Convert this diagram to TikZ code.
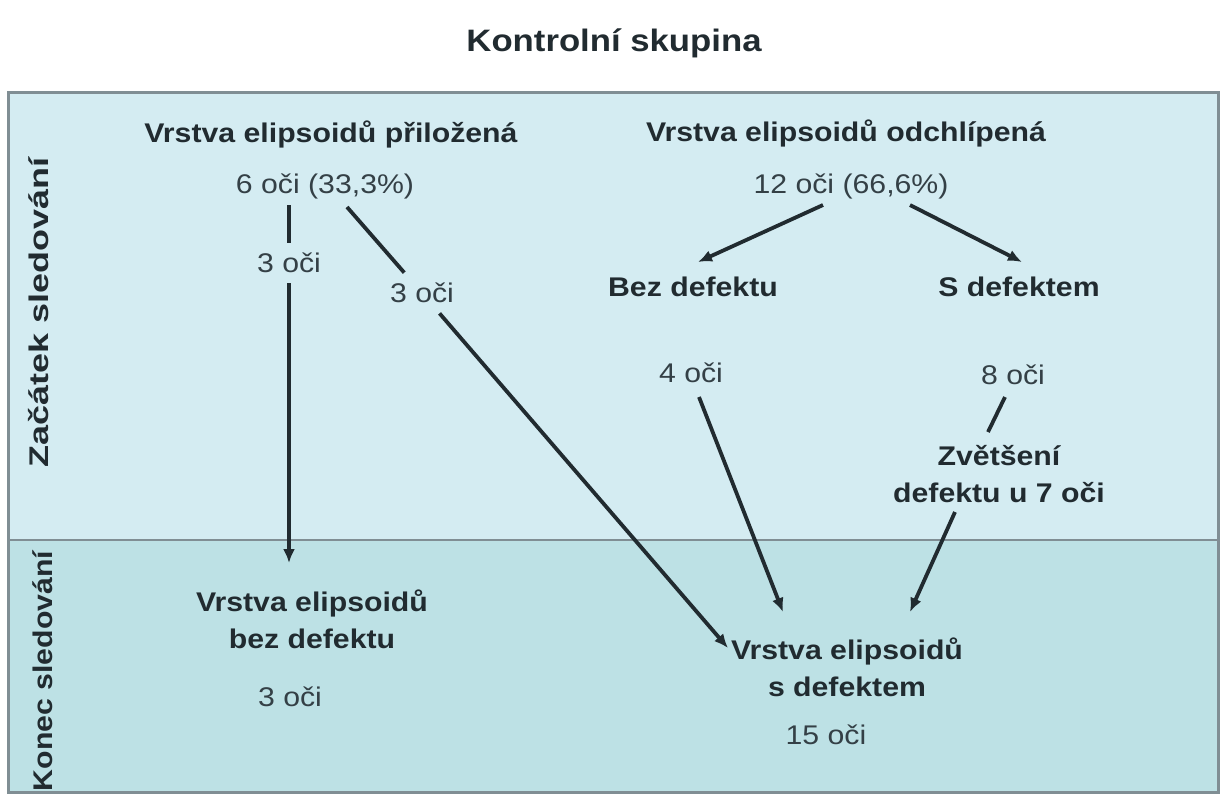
\documentclass[tikz,border=0pt]{standalone}
\usepackage{graphicx}
\usepackage{fontspec}
\setmainfont[FakeStretch=1.12]{Liberation Sans}
\usetikzlibrary{arrows.meta,calc}
\definecolor{bandtop}{RGB}{212,236,242}
\definecolor{bandlow}{RGB}{189,225,229}
\definecolor{framegray}{RGB}{128,142,148}
\definecolor{ink}{RGB}{33,43,48}
\definecolor{inkreg}{RGB}{52,64,70}

\begin{document}
\begin{tikzpicture}[
  x=0.5pt, y=-0.5pt,
  lbl/.style={font=\fontsize{13.5}{18.5}\selectfont\bfseries, text=ink, align=center, inner sep=0pt},
  num/.style={font=\fontsize{13.5}{18.5}\selectfont, text=inkreg, align=center, inner sep=0pt},
  gap/.style={inner sep=5pt},
  seg/.style={line width=1.9pt, draw=ink},
  arr/.style={seg, -{Latex[length=7pt,width=6pt]}}
]
  \useasboundingbox (0,0) rectangle (1227,800);
  % bands
  \fill[bandtop] (8,92) rectangle (1218,540);
  \fill[bandlow] (8,540) rectangle (1218,792);
  \draw[framegray, line width=1pt] (8,540) -- (1218,540);
  \draw[framegray, line width=1.5pt] (8,92) rectangle (1218,792);

  \node[lbl, font=\fontsize{15.5}{18}\selectfont\bfseries] (title) at (614,43) {Kontrolní skupina};
  \node[lbl, rotate=90] (zac) at (39,312) {\scalebox{1.19}[1]{Začátek sledování}};
  \node[lbl, rotate=90] (kon) at (43,671) {Konec sledování};

  % start of follow-up
  \node[lbl] (pril) at (331,134) {Vrstva elipsoidů přiložená};
  \node[num] (o6) at (325,186) {6 oči (33,3\%)};
  \node[lbl] (odch) at (846,133) {Vrstva elipsoidů odchlípená};
  \node[num] (o12) at (851,186) {12 oči (66,6\%)};
  \node[lbl] (bez) at (693,287) {Bez defektu};
  \node[lbl] (sdef) at (1019,287) {S defektem};
  \node[num] (o4) at (691,373) {4 oči};
  \node[num] (o8) at (1013,375) {8 oči};
  \node[lbl] (zvet) at (999,474) {Zvětšení\\defektu u 7 oči};
  \node[num, gap] (v3) at (289,263) {3 oči};
  \node[num, gap] (d3) at (422,293) {3 oči};

  % end of follow-up
  \node[lbl] (kbez) at (312,619) {Vrstva elipsoidů\\bez defektu};
  \node[num] (k3) at (290,697) {3 oči};
  \node[lbl] (kdef) at (847,667) {Vrstva elipsoidů\\s defektem};
  \node[num] (k15) at (826,735) {15 oči};

  \draw[seg] ($(o6)+(-36,19)$) -- (v3);
  \draw[arr] (v3) -- ($(kbez)+(-23,-56)$);
  \draw[seg] ($(o6)+(22,21)$) -- (d3);
  \draw[arr] (d3) -- ($(kdef)+(-119,-19)$);
  \draw[arr] ($(o12)+(-28,19)$) -- ($(bez)+(5,-25)$);
  \draw[arr] ($(o12)+(59,19)$) -- ($(sdef)+(3,-25)$);
  \draw[arr] ($(o4)+(8,24)$) -- ($(kdef)+(-64,-55)$);
  \draw[seg] ($(o8)+(-8,22)$) -- ($(zvet)+(-11,-42)$);
  \draw[arr] ($(zvet)+(-44,38)$) -- ($(kdef)+(63,-55)$);
\end{tikzpicture}
\end{document}
